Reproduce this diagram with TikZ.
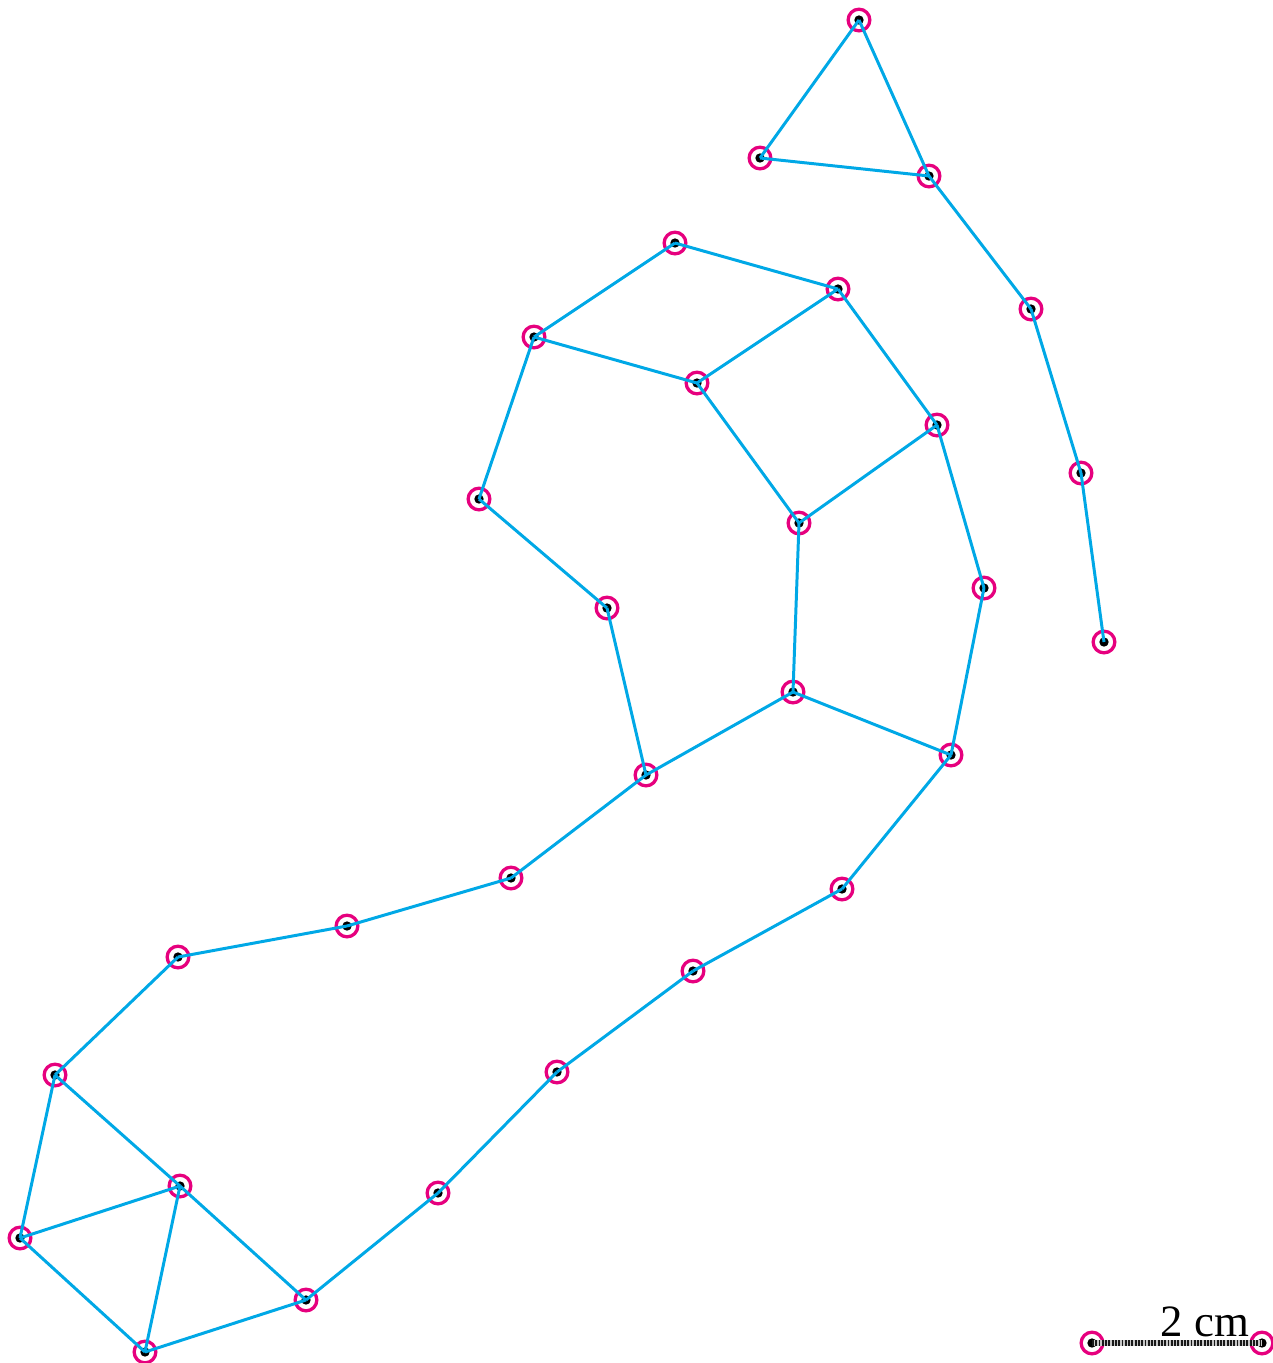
\documentclass[tikz,border=0pt]{standalone}
\usepackage{fontspec}
\setmainfont{Liberation Serif}
\definecolor{ringpink}{HTML}{E6007E}
\definecolor{edgeblue}{HTML}{00A8E6}
\begin{document}
\begin{tikzpicture}[x=0.0117647cm,y=-0.0117647cm,
  vtx/.style={circle,draw=ringpink,line width=1.1pt,minimum size=0.255cm,inner sep=0pt,
    path picture={\fill[black] (path picture bounding box.center) circle (0.055cm);}},
  edge/.style={draw=edgeblue,line width=1pt},
  scalebar/.style={line width=2pt}]
\useasboundingbox (0,0) rectangle (1273,1363);
\node[vtx] (n1) at (859,20) {};
\node[vtx] (n2) at (760,158) {};
\node[vtx] (n3) at (929,176) {};
\node[vtx] (n4) at (1031,309) {};
\node[vtx] (n5) at (1081,473) {};
\node[vtx] (n6) at (1104,642) {};
\node[vtx] (n7) at (675,243) {};
\node[vtx] (n8) at (838,289) {};
\node[vtx] (n9) at (534,337) {};
\node[vtx] (n10) at (697,383) {};
\node[vtx] (n11) at (937,425) {};
\node[vtx] (n12) at (479,499) {};
\node[vtx] (n13) at (799,523) {};
\node[vtx] (n14) at (984,588) {};
\node[vtx] (n15) at (607,608) {};
\node[vtx] (n16) at (793,692) {};
\node[vtx] (n17) at (951,755) {};
\node[vtx] (n18) at (646,775) {};
\node[vtx] (n19) at (511,878) {};
\node[vtx] (n20) at (842,889) {};
\node[vtx] (n21) at (347,926) {};
\node[vtx] (n22) at (178,957) {};
\node[vtx] (n23) at (693,971) {};
\node[vtx] (n24) at (55,1075) {};
\node[vtx] (n25) at (557,1072) {};
\node[vtx] (n26) at (180,1186) {};
\node[vtx] (n27) at (438,1193) {};
\node[vtx] (n28) at (20,1238) {};
\node[vtx] (n29) at (306,1300) {};
\node[vtx] (n30) at (145,1352) {};
\node[vtx] (s1) at (1092,1343) {};
\node[vtx] (s2) at (1262,1343) {};
\foreach \a/\b in {1/2,1/3,2/3,3/4,4/5,5/6,7/8,7/9,9/10,8/10,8/11,10/13,11/13,11/14,
  9/12,12/15,15/18,13/16,16/18,16/17,14/17,17/20,20/23,23/25,25/27,27/29,18/19,19/21,
  21/22,22/24,24/26,24/28,26/28,26/30,28/30,30/29,26/29}
  \draw[edge] (n\a.center) -- (n\b.center);
\draw[scalebar,gray!45] (s1.center) -- (s2.center);
\draw[scalebar,black!90,dash pattern=on 0.6pt off 0.5pt] (s1.center) -- (s2.center);
\node[font=\fontsize{15}{17}\selectfont,anchor=base] (lbl) at (1205,1336) {2 cm};
\end{tikzpicture}
\end{document}
